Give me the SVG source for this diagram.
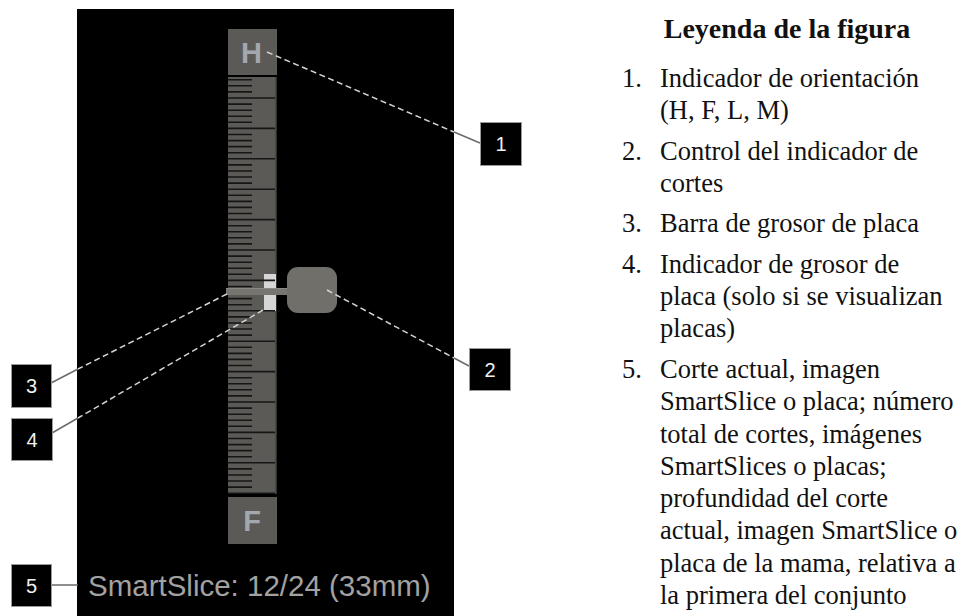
<svg xmlns="http://www.w3.org/2000/svg" width="960" height="616" viewBox="0 0 960 616">
<style>
.box{fill:#000;stroke:#9a9a9a;stroke-width:1}
.num{font-family:"Liberation Sans",Arial,sans-serif;font-size:20px;fill:#f0f0f0;text-anchor:middle}
.leg{font-family:"Liberation Serif","Times New Roman",serif;font-size:26.5px;fill:#111}
.dash{stroke:#d4d4d4;stroke-width:1.5;stroke-dasharray:6 3.5;fill:none}
.solid{stroke:#6a6a6a;stroke-width:1.5;fill:none}
.grey{fill:#5b5a56}
.lbl{font-family:"Liberation Sans",Arial,sans-serif;font-weight:bold;font-size:29px;fill:#a3a7ae;text-anchor:middle}
</style>
<rect width="960" height="616" fill="#fff"/>
<g id="panel">
<rect x="77" y="9" width="377" height="607" fill="#000"/>
</g>
<g id="orient-H">
<rect class="grey" x="228" y="29" width="49" height="46"/>
<text class="lbl" x="251.5" y="63">H</text>
</g>
<g id="ruler">
<rect class="grey" x="228" y="77" width="49" height="417"/>
<line x1="276.3" y1="77" x2="276.3" y2="494" stroke="#2c2c2a" stroke-width="1.2"/>
<path stroke="#161616" stroke-width="1.6" fill="none" d="M228 79.8h24M228 85.8h24M228 91.9h24M228 104.1h24M228 110.2h24M228 116.2h24M228 122.3h24M228 134.5h24M228 140.6h24M228 146.6h24M228 152.7h24M228 164.9h24M228 171h24M228 177h24M228 183.1h24M228 195.3h24M228 201.4h24M228 207.4h24M228 213.5h24M228 225.7h24M228 231.8h24M228 237.8h24M228 243.9h24M228 256.1h24M228 262.2h24M228 268.2h24M228 274.3h24M228 286.5h24M228 292.6h24M228 298.6h24M228 304.7h24M228 316.9h24M228 323h24M228 329h24M228 335.1h24M228 347.3h24M228 353.4h24M228 359.4h24M228 365.5h24M228 377.7h24M228 383.8h24M228 389.8h24M228 395.9h24M228 408.1h24M228 414.2h24M228 420.2h24M228 426.3h24M228 438.5h24M228 444.6h24M228 450.6h24M228 456.7h24M228 468.9h24M228 475h24M228 481h24M228 487.1h24"/>
</g>
<g id="slab-indicator">
<rect x="264" y="274" width="12" height="37" fill="#d6d6d6"/>
</g>
<g id="ruler-long-ticks">
<path stroke="#161616" stroke-width="1.6" fill="none" d="M228 98h47M228 128.4h47M228 158.8h47M228 189.2h47M228 219.6h47M228 250h47M228 280.4h47M228 310.8h47M228 341.2h47M228 371.6h47M228 402h47M228 432.4h47M228 462.8h47M228 493.2h47"/>
</g>
<g id="slider">
<rect x="226" y="288" width="64" height="7" fill="#76756f"/>
<line x1="226" y1="288.5" x2="290" y2="288.5" stroke="#8a8983" stroke-width="1"/>
<rect x="287" y="267" width="50" height="46" rx="11" ry="11" fill="#706f6a"/>
</g>
<g id="orient-F">
<rect class="grey" x="228" y="497" width="49" height="47"/>
<text class="lbl" x="252" y="531">F</text>
</g>
<g id="status">
<text x="88" y="596" font-family="&quot;Liberation Sans&quot;,Arial,sans-serif" font-size="29.5" fill="#a2a2a2">SmartSlice: 12/24 (33mm)</text>
</g>
<g id="connectors">
<line class="dash" x1="267" y1="52" x2="454" y2="132"/>
<line class="solid" x1="454" y1="132" x2="480" y2="143"/>
<line class="dash" x1="327" y1="290" x2="454" y2="358"/>
<line class="solid" x1="454" y1="358" x2="469" y2="366"/>
<line class="dash" x1="227" y1="294" x2="78" y2="369"/>
<line class="solid" x1="78" y1="369" x2="51" y2="383"/>
<line class="dash" x1="263" y1="310" x2="78" y2="418"/>
<line class="solid" x1="78" y1="418" x2="52" y2="433"/>
<line class="solid" x1="51" y1="585" x2="78" y2="585"/>
</g>
<g id="callout-1"><rect class="box" x="480.5" y="122.5" width="41" height="43"/><text class="num" x="501" y="151">1</text></g>
<g id="callout-2"><rect class="box" x="469.5" y="348.5" width="41" height="42"/><text class="num" x="490" y="376.5">2</text></g>
<g id="callout-3"><rect class="box" x="11.5" y="364.5" width="40" height="43"/><text class="num" x="31.5" y="393">3</text></g>
<g id="callout-4"><rect class="box" x="11.5" y="418.5" width="41" height="42"/><text class="num" x="32" y="446.5">4</text></g>
<g id="callout-5"><rect class="box" x="11.5" y="564.5" width="40" height="42"/><text class="num" x="31.5" y="592.5">5</text></g>
<g id="legend">
<text x="787" y="38" font-family="&quot;Liberation Serif&quot;,&quot;Times New Roman&quot;,serif" font-size="28" font-weight="bold" fill="#111" text-anchor="middle">Leyenda de la figura</text>
<text class="leg" x="622" y="87">1.</text><text class="leg" x="660" y="87">Indicador de orientación</text>
<text class="leg" x="660" y="119">(H, F, L, M)</text>
<text class="leg" x="622" y="160">2.</text><text class="leg" x="660" y="160">Control del indicador de</text>
<text class="leg" x="660" y="192">cortes</text>
<text class="leg" x="622" y="232">3.</text><text class="leg" x="660" y="232">Barra de grosor de placa</text>
<text class="leg" x="622" y="273">4.</text><text class="leg" x="660" y="273">Indicador de grosor de</text>
<text class="leg" x="660" y="305">placa (solo si se visualizan</text>
<text class="leg" x="660" y="337">placas)</text>
<text class="leg" x="622" y="378">5.</text><text class="leg" x="660" y="378">Corte actual, imagen</text>
<text class="leg" x="660" y="410">SmartSlice o placa; número</text>
<text class="leg" x="660" y="443">total de cortes, imágenes</text>
<text class="leg" x="660" y="475">SmartSlices o placas;</text>
<text class="leg" x="660" y="507">profundidad del corte</text>
<text class="leg" x="660" y="539">actual, imagen SmartSlice o</text>
<text class="leg" x="660" y="572">placa de la mama, relativa a</text>
<text class="leg" x="660" y="604">la primera del conjunto</text>
</g>
</svg>
